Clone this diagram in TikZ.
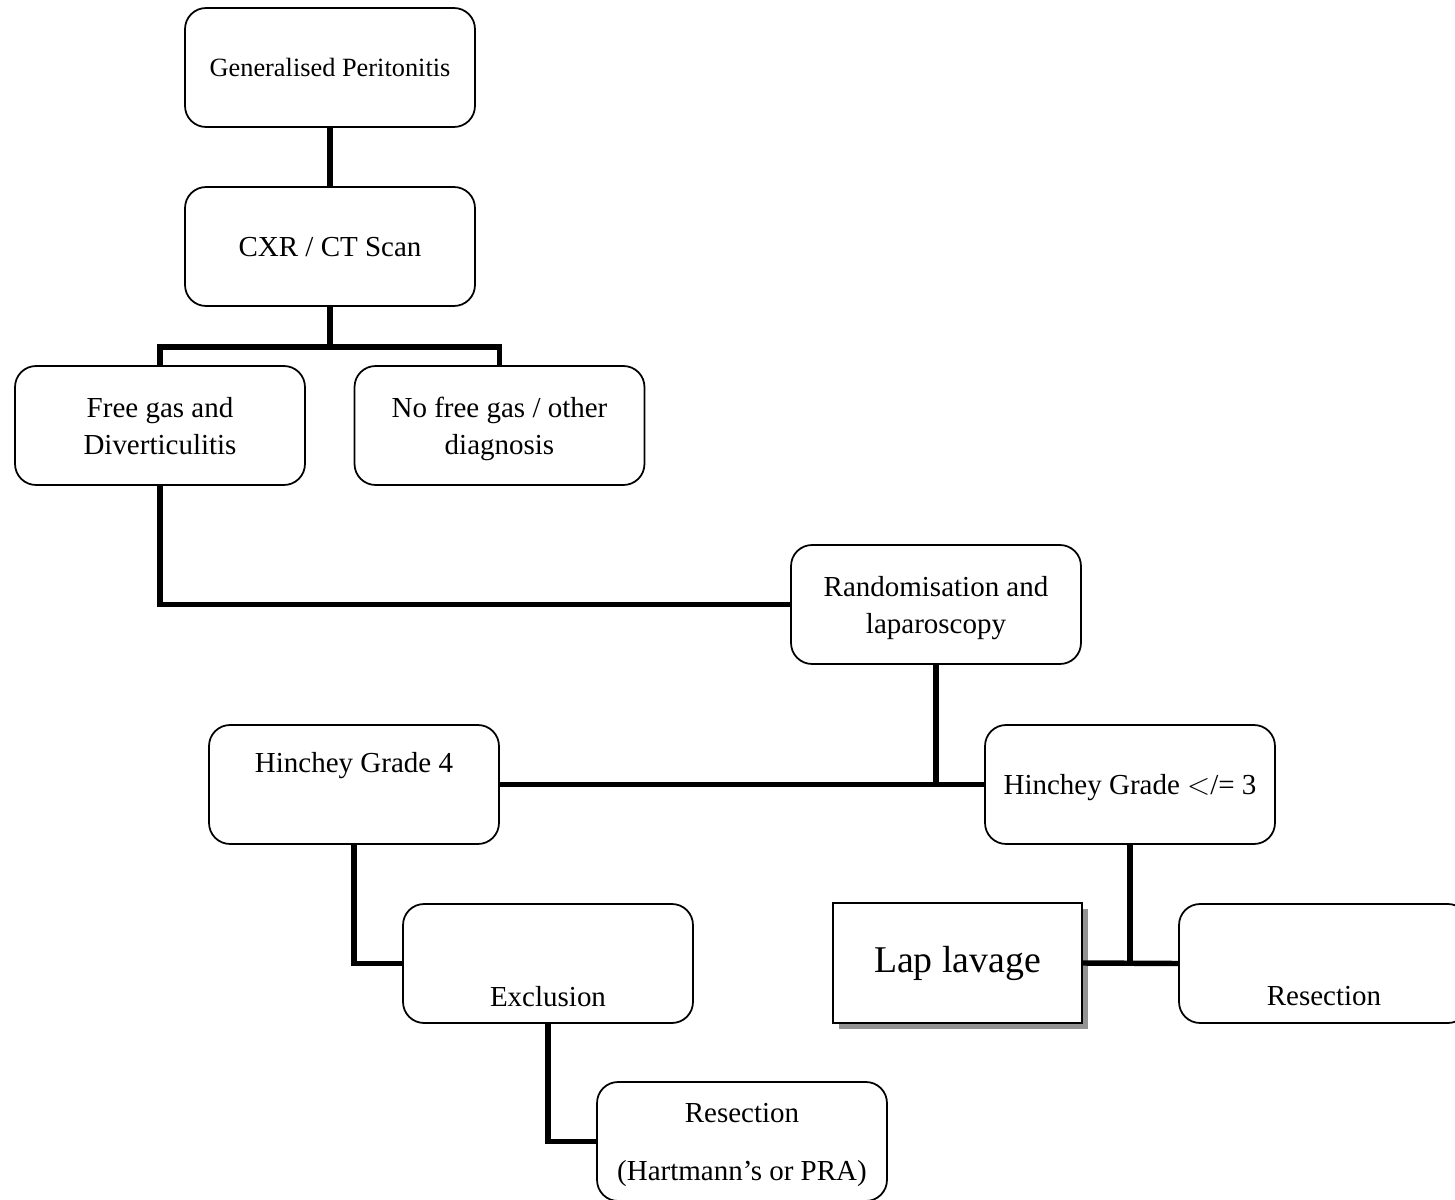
\documentclass[tikz,border=0pt]{standalone}
\usepackage{fontspec}
\setmainfont{Liberation Serif}
\usetikzlibrary{calc,shadows}

\tikzset{
  box/.style={draw, line width=1pt, rounded corners=0.42cm, minimum width=5.8cm,
    minimum height=2.38cm, align=center, inner sep=0pt, text depth=0pt,
    font=\fontsize{16.5}{21}\selectfont},
  txt/.style={align=center, inner sep=0pt, font=\fontsize{16.5}{21}\selectfont},
  lapbox/.style={draw, line width=1pt, minimum width=4.98cm, minimum height=2.4cm,
    fill=white, font=\fontsize{21.5}{25}\selectfont,
    drop shadow={shadow xshift=0.12cm, shadow yshift=-0.12cm, fill=gray!85, opacity=1}},
  conn/.style={line width=3.1pt}
}

\begin{document}
\begin{tikzpicture}[x=0.02cm, y=-0.02cm]
  \useasboundingbox (0,0) rectangle (1455,1200);
  \clip (0,0) rectangle (1455,1200);

  \node[box, font=\fontsize{15}{18}\selectfont] (gp) at (330,67.5) {Generalised Peritonitis};
  \node[box] (cxr) at (330,246.5) {CXR / CT Scan};
  \node[box] (free) at (160,425.5) {Free gas and\\Diverticulitis};
  \node[box] (nofree) at (499.5,425.5) {No free gas / other\\diagnosis};
  \node[box] (rand) at (936,604.5) {Randomisation and\\laparoscopy};
  \node[box] (h4) at (354,784.5) {};
  \node[txt] (h4t) at ($(h4.center)+(0,-19)$) {Hinchey Grade 4};
  \node[box] (h3) at (1130,784.5) {Hinchey Grade $<$/= 3};
  \node[box] (excl) at (548,963.5) {};
  \node[txt] (exclt) at ($(excl.center)+(0,33)$) {Exclusion};
  \node[lapbox] (lap) at (957.5,963) {Lap lavage};
  \node[box] (res) at (1324,963.5) {};
  \node[txt] (rest) at (1324,996.5) {Resection};
  \node[box] (resb) at (742,1141.5) {Resection\\[12pt](Hartmann’s or PRA)};

  \draw[conn] (gp.south) -- (cxr.north);
  \draw[conn] (cxr.south) -- ++(0,40) coordinate (split);
  \draw[conn] (free.north) |- (split) -| (nofree.north);
  \draw[conn] (free.south) |- (rand.west);
  \draw[conn] (h4.east) -- (h3.west);
  \draw[conn] (rand.south) -- (rand.south |- h3.west);
  \draw[conn] (h4.south) |- (excl.west);
  \draw[conn] (excl.south) |- (resb.west);
  \draw[conn] (lap.east) -- (res.west);
  \draw[conn] (h3.south) -- (h3.south |- lap.east);
\end{tikzpicture}
\end{document}
